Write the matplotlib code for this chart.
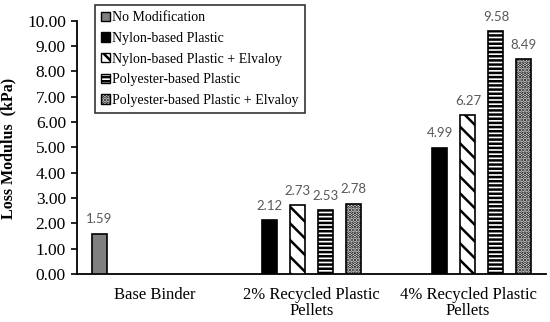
import matplotlib.pyplot as plt
import numpy as np

# data
groups = ["Base Binder", "2% Recycled Plastic\nPellets", "4% Recycled Plastic\nPellets"]
series = ["No Modification", "Nylon-based Plastic", "Nylon-based Plastic + Elvaloy",
          "Polyester-based Plastic", "Polyester-based Plastic + Elvaloy"]
no_mod = [1.59, None, None]
nylon = [None, 2.12, 4.99]
nylon_elv = [None, 2.73, 6.27]
poly = [None, 2.53, 9.58]
poly_elv = [None, 2.78, 8.49]
yticks = np.arange(0, 10.01, 1.0)

values = [no_mod, nylon, nylon_elv, poly, poly_elv]
faces = ["#808080", "black", "white", "white", "white"]
hatches = [None, None, "\\\\", "----", "....."]

# slot of each series inside each group (the chart is not evenly centred)
slots = [
    {0: -2},
    {1: -1.5, 2: -0.5, 3: 0.5, 4: 1.5},
    {1: -1, 2: 0, 3: 1, 4: 2},
]
slot_w = 0.179
bar_w = 0.096

plt.rcParams['hatch.linewidth'] = 1.8
serif = "Liberation Serif"

fig = plt.figure(figsize=(5.5, 3.22), dpi=100)
ax = fig.add_axes([0.14, 0.149, 0.853, 0.787])

for si, vals in enumerate(values):
    for gi, v in enumerate(vals):
        if v is None:
            continue
        x = gi + slots[gi][si] * slot_w
        ax.bar(x, v, width=bar_w, color=faces[si], edgecolor="black",
               linewidth=1.2, hatch=hatches[si], zorder=3)
        ax.annotate(f"{v:.2f}", (x, v), xytext=(0, 6), textcoords="offset points",
                    ha="center", va="bottom", fontsize=9.5, color="#595959",
                    family="Lato")

ax.set_xlim(-0.5, 2.5)
ax.set_ylim(0, 10)
ax.set_yticks(yticks)
ax.set_yticklabels([f"{t:.2f}" for t in yticks], family=serif, fontsize=12.5)
ax.set_xticks(range(len(groups)))
ax.set_xticklabels(groups, family=serif, fontsize=12, linespacing=1.05)
ax.tick_params(axis="x", length=0, pad=9)
ax.tick_params(axis="y", direction="out", length=4, width=1.2, pad=4)
for s in ["top", "right"]:
    ax.spines[s].set_visible(False)
for s in ["left", "bottom"]:
    ax.spines[s].set_linewidth(1.3)

fig.text(0.016, 0.54, "Loss Modulus  (kPa)", rotation=90, ha="center", va="center",
         family=serif, fontweight="bold", fontsize=11.5)

handles = [plt.Rectangle((0, 0), 1, 1, facecolor=faces[i], edgecolor="black",
                         linewidth=1.0, hatch=hatches[i]) for i in range(len(series))]
leg = fig.legend(handles, series, loc="upper left", bbox_to_anchor=(95 / 550, 1 - 5 / 322),
                 prop={"family": serif, "size": 10}, frameon=True, fancybox=False,
                 edgecolor="black", handlelength=0.65, handleheight=0.65,
                 handletextpad=0.15, labelspacing=0.55, borderpad=0.45, borderaxespad=0)
leg.get_frame().set_linewidth(1.2)

fig.savefig("out.png", dpi=100)
